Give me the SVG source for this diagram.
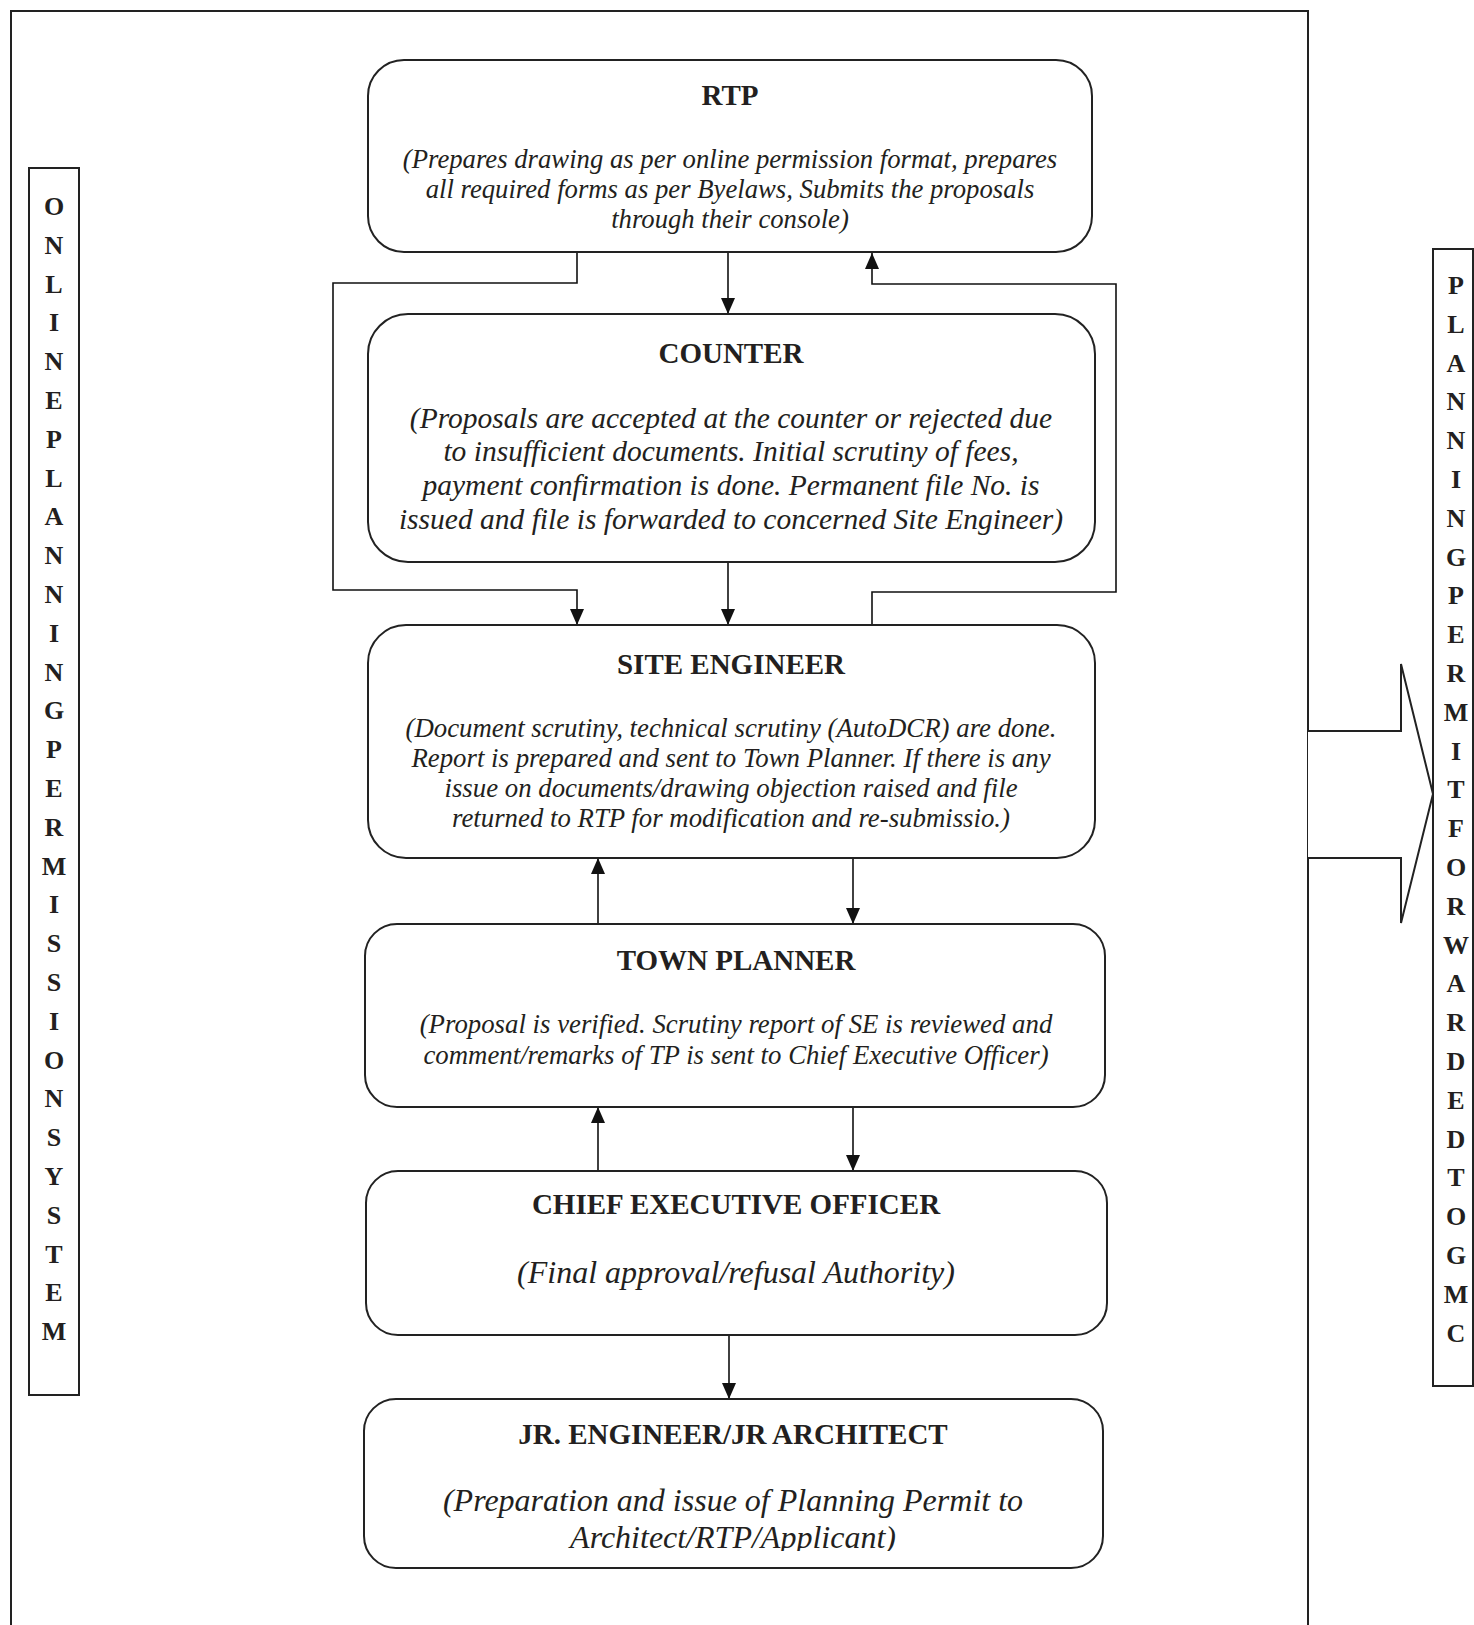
<svg xmlns="http://www.w3.org/2000/svg" width="1474" height="1625" viewBox="0 0 1474 1625">
<defs>
<style>
.box{fill:#fff;stroke:#222;stroke-width:2}
.ln{fill:none;stroke:#111;stroke-width:1.6}
.t{font-family:"Liberation Serif","Times New Roman",serif;font-weight:bold;fill:#231f20;text-anchor:middle;font-size:29px}
.d{font-family:"Liberation Serif","Times New Roman",serif;font-style:italic;fill:#231f20;text-anchor:middle}
.v{font-family:"Liberation Serif","Times New Roman",serif;font-weight:bold;fill:#231f20;text-anchor:middle;font-size:26px}
</style>
<marker id="ah" viewBox="0 0 16 14" refX="16" refY="7" markerWidth="16" markerHeight="14" markerUnits="userSpaceOnUse" orient="auto">
<path d="M0,0 L16,7 L0,14 Z" fill="#111"/>
</marker>
<clipPath id="jrclip"><rect x="364" y="1399" width="739" height="152"/></clipPath>
</defs>
<rect width="1474" height="1625" fill="#fff"/>
<path d="M11,1625 L11,11 L1308,11 L1308,1625" fill="none" stroke="#222" stroke-width="2"/>

<g id="left-label">
<rect x="29" y="168" width="50" height="1227" fill="#fff" stroke="#222" stroke-width="2"/>
<text class="v" x="54" y="215">O</text>
<text class="v" x="54" y="254">N</text>
<text class="v" x="54" y="293">L</text>
<text class="v" x="54" y="331">I</text>
<text class="v" x="54" y="370">N</text>
<text class="v" x="54" y="409">E</text>
<text class="v" x="54" y="448">P</text>
<text class="v" x="54" y="487">L</text>
<text class="v" x="54" y="525">A</text>
<text class="v" x="54" y="564">N</text>
<text class="v" x="54" y="603">N</text>
<text class="v" x="54" y="642">I</text>
<text class="v" x="54" y="681">N</text>
<text class="v" x="54" y="719">G</text>
<text class="v" x="54" y="758">P</text>
<text class="v" x="54" y="797">E</text>
<text class="v" x="54" y="836">R</text>
<text class="v" x="54" y="875">M</text>
<text class="v" x="54" y="913">I</text>
<text class="v" x="54" y="952">S</text>
<text class="v" x="54" y="991">S</text>
<text class="v" x="54" y="1030">I</text>
<text class="v" x="54" y="1069">O</text>
<text class="v" x="54" y="1107">N</text>
<text class="v" x="54" y="1146">S</text>
<text class="v" x="54" y="1185">Y</text>
<text class="v" x="54" y="1224">S</text>
<text class="v" x="54" y="1263">T</text>
<text class="v" x="54" y="1301">E</text>
<text class="v" x="54" y="1340">M</text>
</g>

<g id="right-label">
<rect x="1433" y="249" width="40" height="1137" fill="#fff" stroke="#222" stroke-width="2"/>
<text class="v" x="1456" y="294">P</text>
<text class="v" x="1456" y="333">L</text>
<text class="v" x="1456" y="372">A</text>
<text class="v" x="1456" y="410">N</text>
<text class="v" x="1456" y="449">N</text>
<text class="v" x="1456" y="488">I</text>
<text class="v" x="1456" y="527">N</text>
<text class="v" x="1456" y="566">G</text>
<text class="v" x="1456" y="604">P</text>
<text class="v" x="1456" y="643">E</text>
<text class="v" x="1456" y="682">R</text>
<text class="v" x="1456" y="721">M</text>
<text class="v" x="1456" y="760">I</text>
<text class="v" x="1456" y="798">T</text>
<text class="v" x="1456" y="837">F</text>
<text class="v" x="1456" y="876">O</text>
<text class="v" x="1456" y="915">R</text>
<text class="v" x="1456" y="954">W</text>
<text class="v" x="1456" y="992">A</text>
<text class="v" x="1456" y="1031">R</text>
<text class="v" x="1456" y="1070">D</text>
<text class="v" x="1456" y="1109">E</text>
<text class="v" x="1456" y="1148">D</text>
<text class="v" x="1456" y="1186">T</text>
<text class="v" x="1456" y="1225">O</text>
<text class="v" x="1456" y="1264">G</text>
<text class="v" x="1456" y="1303">M</text>
<text class="v" x="1456" y="1342">C</text>
</g>

<g id="block-arrow">
<path d="M1308,731 L1401,731 L1401,664 L1433,794 L1401,923 L1401,858 L1308,858" fill="#fff" stroke="#222" stroke-width="2"/>
</g>

<g id="connectors">
<path class="ln" d="M728,252 L728,314" marker-end="url(#ah)"/>
<path class="ln" d="M577,252 L577,283 L333,283 L333,590 L577,590 L577,625" marker-end="url(#ah)"/>
<path class="ln" d="M872,625 L872,592 L1116,592 L1116,284 L872,284 L872,253" marker-end="url(#ah)"/>
<path class="ln" d="M728,562 L728,625" marker-end="url(#ah)"/>
<path class="ln" d="M598,924 L598,858" marker-end="url(#ah)"/>
<path class="ln" d="M853,858 L853,924" marker-end="url(#ah)"/>
<path class="ln" d="M598,1171 L598,1107" marker-end="url(#ah)"/>
<path class="ln" d="M853,1107 L853,1171" marker-end="url(#ah)"/>
<path class="ln" d="M729,1335 L729,1399" marker-end="url(#ah)"/>
</g>

<g id="rtp">
<rect class="box" x="368" y="60" width="724" height="192" rx="36"/>
<text class="t" x="730" y="105" font-size="28">RTP</text>
<text class="d" x="730" y="168" font-size="26.7">(Prepares drawing as per online permission format, prepares</text>
<text class="d" x="730" y="198" font-size="26.7">all required forms as per Byelaws, Submits the proposals</text>
<text class="d" x="730" y="228" font-size="26.7">through their console)</text>
</g>

<g id="counter">
<rect class="box" x="368" y="314" width="727" height="248" rx="40"/>
<text class="t" x="731" y="363">COUNTER</text>
<text class="d" x="731" y="428" font-size="29.5">(Proposals are accepted at the counter or rejected due</text>
<text class="d" x="731" y="461" font-size="29.5">to insufficient documents. Initial scrutiny of fees,</text>
<text class="d" x="731" y="495" font-size="29.5">payment confirmation is done. Permanent file No. is</text>
<text class="d" x="731" y="529" font-size="29.5">issued and file is forwarded to concerned Site Engineer)</text>
</g>

<g id="site-engineer">
<rect class="box" x="368" y="625" width="727" height="233" rx="38"/>
<text class="t" x="731" y="674">SITE ENGINEER</text>
<text class="d" x="731" y="737" font-size="26.8">(Document scrutiny, technical scrutiny (AutoDCR) are done.</text>
<text class="d" x="731" y="767" font-size="26.8">Report is prepared and sent to Town Planner. If there is any</text>
<text class="d" x="731" y="797" font-size="26.8">issue on documents/drawing objection raised and file</text>
<text class="d" x="731" y="827" font-size="26.8">returned to RTP for modification and re-submissio.)</text>
</g>

<g id="town-planner">
<rect class="box" x="365" y="924" width="740" height="183" rx="32"/>
<text class="t" x="736" y="970">TOWN PLANNER</text>
<text class="d" x="736" y="1033" font-size="26.8">(Proposal is verified. Scrutiny report of SE is reviewed and</text>
<text class="d" x="736" y="1064" font-size="26.8">comment/remarks of TP is sent to Chief Executive Officer)</text>
</g>

<g id="ceo">
<rect class="box" x="366" y="1171" width="741" height="164" rx="32"/>
<text class="t" x="736" y="1214">CHIEF EXECUTIVE OFFICER</text>
<text class="d" x="736" y="1283" font-size="32">(Final approval/refusal Authority)</text>
</g>

<g id="jr">
<rect class="box" x="364" y="1399" width="739" height="169" rx="32"/>
<text class="t" x="733" y="1444">JR. ENGINEER/JR ARCHITECT</text>
<g clip-path="url(#jrclip)">
<text class="d" x="733" y="1511" font-size="32">(Preparation and issue of Planning Permit to</text>
<text class="d" x="733" y="1548" font-size="32">Architect/RTP/Applicant)</text>
</g>
</g>
</svg>
